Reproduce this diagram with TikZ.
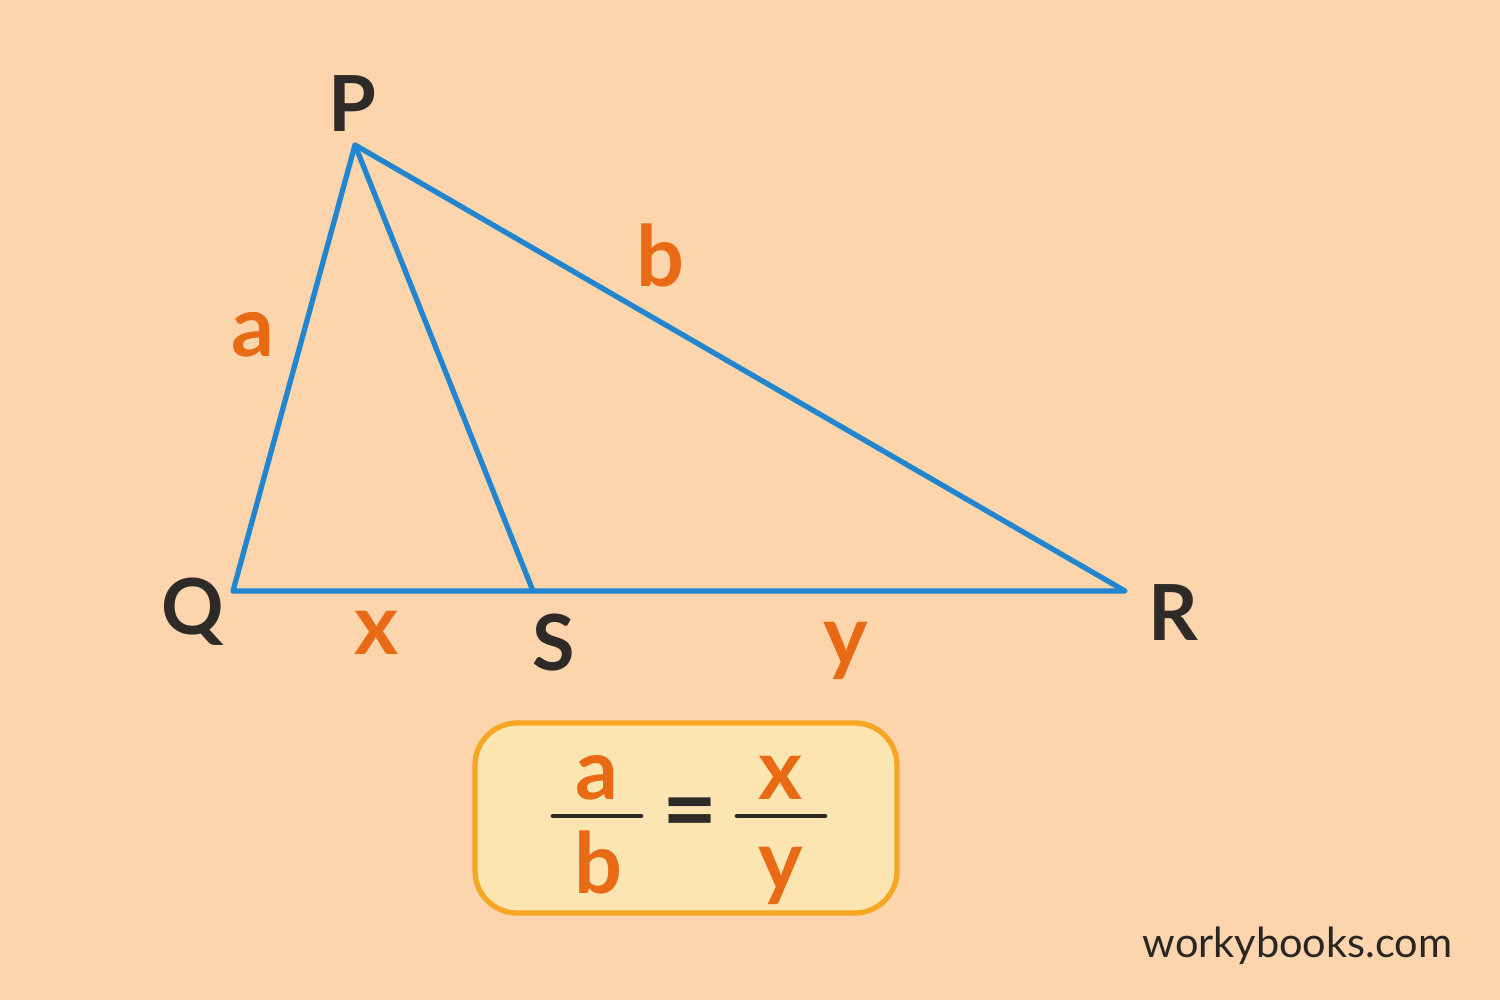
\documentclass[tikz,border=0pt]{standalone}
\usepackage{fontspec}
\setmainfont{Lato}
\usetikzlibrary{positioning}
\definecolor{bgpeach}{RGB}{252, 213, 172}
\definecolor{lineblue}{RGB}{33, 133, 208}
\definecolor{labelorange}{RGB}{232, 106, 20}
\definecolor{vertexdark}{RGB}{45, 42, 40}
\definecolor{boxfill}{RGB}{253, 229, 178}
\definecolor{boxedge}{RGB}{245, 166, 35}

\begin{document}
\begin{tikzpicture}[x=0.01cm, y=-0.01cm,
  vertex/.style={font=\fontsize{22}{26}\selectfont\bfseries, text=vertexdark, inner sep=0pt},
  side/.style={font=\fontsize{24}{28}\selectfont\bfseries, text=labelorange, inner sep=0pt},
  edge/.style={draw=lineblue, line width=1.5pt, line join=round}]
% Background
\fill[bgpeach] (0,0) rectangle (1500,1000);
\useasboundingbox (0,0) rectangle (1500,1000);

% Corners of the triangle
\coordinate (P) at (355,145);
\coordinate (Q) at (233,591);
\coordinate (S) at (533,591);
\coordinate (R) at (1125,591);

\draw[edge] (P) -- (Q) -- (R) -- cycle;
\draw[edge] (P) -- (S);

% Vertex names
\node[vertex] (Plabel) at (352,104) {P};
\node[vertex] (Qlabel) at (193,612) {Q};
\node[vertex] (Slabel) at (554,643) {S};
\node[vertex] (Rlabel) at (1173,613) {R};

% Side lengths
\node[side] (alabel) at (253,335) {a};
\node[side] (blabel) at (660,255) {b};
\node[side] (xlabel) at (377,633) {x};
\node[side] (ylabel) at (846,651) {y};

% Ratio box
\draw[boxedge, fill=boxfill, line width=1.5pt, rounded corners=12pt] (475,723) rectangle (897,913);
\node[side] (fa) at (597,778) {a};
\node[side] (fb) at (598,862) {b};
\node[side] (fx) at (781,778) {x};
\node[side] (fy) at (781,876) {y};
\draw[vertexdark, line width=1.3pt, line cap=round] (553,816) -- (641,816);
\draw[vertexdark, line width=1.3pt, line cap=round] (737,816) -- (825,816);
\node[font=\fontsize{27}{30}\selectfont\bfseries, text=vertexdark, inner sep=0pt] (eq) at (690,820) {=};

% Watermark
\node[font=\fontsize{11.8}{14}\selectfont, text=vertexdark!90!black, anchor=east, inner sep=0pt] (site) at (1453,946) {workybooks.com};
\end{tikzpicture}
\end{document}
